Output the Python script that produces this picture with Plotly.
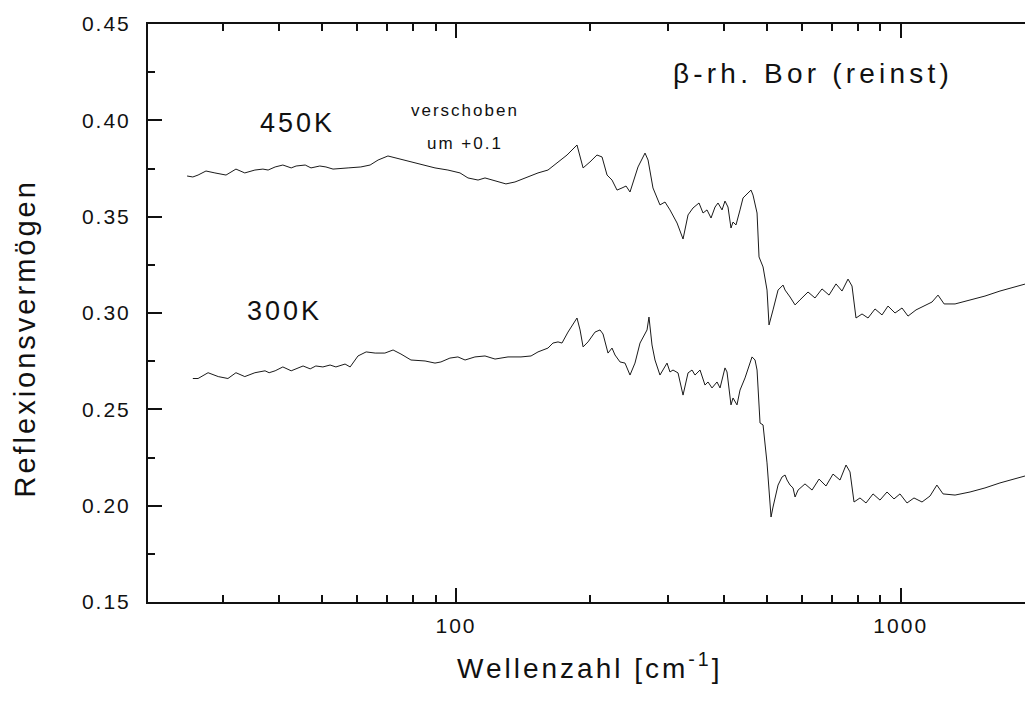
import plotly.graph_objects as go

# Reflectance spectra of beta-rhombohedral boron (high purity)
# 300 K spectrum
wn_300 = [25.6, 26.3, 27.7, 29.2, 30.7, 32.0, 33.5, 35.3, 37.2, 38.0, 39.2, 40.8, 42.6, 45.3,
          47.0, 48.4, 50.2, 52.1, 53.7, 56.3, 57.8, 60.2, 62.8, 65.8, 69.2, 72.2, 75.2, 79.2,
          85.2, 89.7, 92.5, 96.9, 101.0, 104.8, 110.3, 116.2, 122.4, 130.9, 140.0, 147.5, 152.9,
          161.0, 165.2, 169.6, 173.1, 178.6, 187.1, 190.1, 193.1, 198.1, 205.4, 210.8, 214.1,
          219.7, 224.3, 227.8, 233.8, 239.9, 246.2, 252.6, 259.3, 263.3, 268.9, 271.6, 275.9,
          280.2, 287.5, 298.2, 302.8, 307.6, 315.7, 324.0, 332.5, 339.4, 344.7, 353.8, 363.0,
          368.7, 376.4, 386.3, 392.4, 402.6, 406.8, 415.3, 419.7, 428.4, 435.2, 446.6, 453.6,
          463.1, 470.4, 475.3, 482.7, 490.3, 500.5, 511.0, 516.3, 529.9, 541.0, 549.5, 555.2,
          563.9, 572.7, 578.7, 587.7, 609.2, 631.9, 655.2, 679.2, 704.3, 730.3, 753.4, 769.1,
          785.3, 809.9, 835.6, 866.5, 898.3, 931.5, 965.9, 996.3, 1033.2, 1071.2, 1116.6,
          1164, 1206, 1245, 1325, 1432, 1547, 1672, 1903]
refl_300 = [0.266, 0.266, 0.269, 0.267, 0.266, 0.269, 0.267, 0.269, 0.270, 0.269, 0.270, 0.272,
            0.270, 0.2725, 0.271, 0.2725, 0.272, 0.273, 0.272, 0.2735, 0.272, 0.2777, 0.2798,
            0.2792, 0.2792, 0.2808, 0.2787, 0.2756, 0.2751, 0.274, 0.2746, 0.2766, 0.2772,
            0.2756, 0.2772, 0.2777, 0.2761, 0.2772, 0.2772, 0.2777, 0.2798, 0.2818, 0.2844,
            0.2850, 0.2844, 0.2901, 0.2974, 0.2912, 0.2824, 0.2850, 0.2901, 0.2912, 0.2891,
            0.2792, 0.2818, 0.2782, 0.2746, 0.2740, 0.2678, 0.2740, 0.2844, 0.2875, 0.2912,
            0.2979, 0.2834, 0.2756, 0.2678, 0.2740, 0.2694, 0.2704, 0.2689, 0.2574, 0.2689,
            0.2704, 0.2678, 0.2704, 0.2626, 0.2642, 0.2611, 0.2642, 0.2611, 0.2715, 0.2694,
            0.2523, 0.2559, 0.2523, 0.2600, 0.2663, 0.2715, 0.2772, 0.2756, 0.2704, 0.2429,
            0.2419, 0.2222, 0.1941, 0.1993, 0.2107, 0.2149, 0.2159, 0.2133, 0.2107, 0.2092,
            0.2045, 0.2081, 0.2113, 0.2081, 0.2138, 0.2102, 0.2164, 0.2133, 0.2211, 0.2175,
            0.2019, 0.2040, 0.2014, 0.2061, 0.2029, 0.2071, 0.2035, 0.2061, 0.2014, 0.2040,
            0.2019, 0.2050, 0.2107, 0.2061, 0.2055, 0.2071, 0.2092, 0.2118, 0.2154]

# 450 K spectrum (plotted shifted by +0.1)
wn_450 = [24.85, 25.6, 26.3, 27.4, 28.7, 30.4, 32.0, 33.5, 35.3, 36.8, 37.8, 39.2, 40.8, 42.6,
          43.7, 45.8, 47.2, 49.4, 51.0, 52.9, 57.2, 61.1, 64.1, 66.8, 70.3, 73.3, 76.8, 80.9,
          85.2, 89.7, 95.9, 102.1, 106.4, 112.1, 116.2, 122.4, 129.5, 135.7, 145.2, 152.9,
          161.0, 168.7, 177.7, 187.1, 193.1, 200.1, 207.5, 213.0, 218.6, 224.3, 230.2, 236.2,
          241.2, 246.2, 250.0, 256.6, 266.1, 270.3, 277.3, 283.1, 287.5, 295.1, 302.8, 314.1,
          324.0, 332.5, 341.1, 351.9, 359.3, 366.8, 374.5, 382.4, 388.3, 396.5, 402.6, 408.9,
          415.3, 419.7, 426.2, 435.2, 442.0, 453.6, 460.7, 465.5, 475.3, 480.2, 490.3, 500.5,
          505.7, 516.3, 529.9, 543.8, 549.5, 563.9, 578.7, 593.7, 618.8, 641.6, 665.3, 690.0,
          715.3, 737.9, 761.2, 777.1, 793.4, 818.5, 844.3, 875.5, 907.8, 936.3, 971.0, 1006.7,
          1038.5, 1082.4, 1128.2, 1176, 1213, 1252, 1325, 1432, 1547, 1672, 1903]
refl_450 = [0.3711, 0.3706, 0.3716, 0.3737, 0.3727, 0.3716, 0.3747, 0.3727, 0.3742, 0.3747,
            0.3742, 0.3758, 0.3768, 0.3753, 0.3763, 0.3768, 0.3753, 0.3763, 0.3758, 0.3747,
            0.3753, 0.3758, 0.3768, 0.3794, 0.3815, 0.3805, 0.3794, 0.3779, 0.3768, 0.3753,
            0.3742, 0.3727, 0.3701, 0.3690, 0.3701, 0.3685, 0.3670, 0.3680, 0.3706, 0.3727,
            0.3742, 0.3779, 0.3820, 0.3872, 0.3753, 0.3784, 0.3820, 0.3810, 0.3716, 0.3690,
            0.3638, 0.3649, 0.3659, 0.3628, 0.3675, 0.3758, 0.3830, 0.3794, 0.3649, 0.3597,
            0.3561, 0.3576, 0.3535, 0.3467, 0.3384, 0.3509, 0.3545, 0.3571, 0.3519, 0.3535,
            0.3493, 0.3550, 0.3571, 0.3535, 0.3581, 0.3550, 0.3441, 0.3472, 0.3457, 0.3535,
            0.3597, 0.3623, 0.3638, 0.3612, 0.3519, 0.3291, 0.3239, 0.3119, 0.2938, 0.3016,
            0.3119, 0.3145, 0.3119, 0.3083, 0.3042, 0.3068, 0.3109, 0.3078, 0.3125, 0.3093,
            0.3151, 0.3114, 0.3176, 0.3140, 0.2974, 0.2995, 0.2974, 0.3021, 0.2990, 0.3036,
            0.3000, 0.3026, 0.2984, 0.3016, 0.3036, 0.3057, 0.3093, 0.3047, 0.3047, 0.3068,
            0.3088, 0.3114, 0.3150]

y_ticks = [0.15, 0.20, 0.25, 0.30, 0.35, 0.40, 0.45]
x_ticks = [100, 1000]
x_minor = [30, 40, 50, 60, 70, 80, 90, 200, 300, 400, 500, 600, 700, 800, 900]

FONT = "Liberation Sans, Arial, sans-serif"
INK = "#111111"


def spaced(text, gap):
    return f'<span style="letter-spacing:{gap}px">{text}</span>'


fig = go.Figure()
for wn, refl in ((wn_300, refl_300), (wn_450, refl_450)):
    fig.add_trace(go.Scatter(x=wn, y=refl, mode="lines",
                             line=dict(color="#1a1a1a", width=1),
                             showlegend=False, hoverinfo="skip"))

axis_common = dict(showline=True, linecolor=INK, linewidth=2, ticks="inside",
                   tickcolor=INK, tickwidth=2, ticklen=14, showgrid=False,
                   zeroline=False, tickfont=dict(family=FONT, size=21, color=INK))

fig.update_layout(
    width=1025, height=711,
    margin=dict(l=148, r=0, t=24, b=109),
    paper_bgcolor="white", plot_bgcolor="white",
    xaxis=dict(type="log", range=[1.3074, 3.2795], mirror="ticks",
               tickvals=x_ticks, ticktext=[spaced(str(v), 2) for v in x_ticks],
               ticklabelstandoff=4,
               minor=dict(tickvals=x_minor, ticks="inside", ticklen=7,
                          tickwidth=2, tickcolor=INK),
               **axis_common),
    yaxis=dict(range=[0.15, 0.45], tickvals=y_ticks,
               ticktext=[spaced(f"{v:.2f}", 2) for v in y_ticks],
               ticklabelstandoff=11,
               minor=dict(dtick=0.025, ticks="inside", ticklen=7,
                          tickwidth=2, tickcolor=INK),
               **axis_common),
    yaxis2=dict(overlaying="y", side="right", range=[0.15, 0.45],
                tickvals=y_ticks, showticklabels=False, showline=False,
                ticks="inside", ticklen=5, tickwidth=2, tickcolor=INK,
                showgrid=False, zeroline=False),
)


def label(x, y, text, size, angle=0):
    fig.add_annotation(x=x, y=y, xref="paper", yref="paper", text=text,
                       textangle=angle, showarrow=False,
                       xanchor="center", yanchor="middle",
                       font=dict(family=FONT, size=size, color=INK))


label(0.171, 0.8287, spaced("450K", 3), 27)
label(0.1557, 0.5026, spaced("300K", 3), 27)
label(0.3616, 0.8495, spaced("verschoben", 2), 17)
label(0.3616, 0.7941, spaced("um +0.1", 2), 17)
label(0.7577, 0.9135, spaced("β-rh. Bor (reinst)", 4.2), 28)
label(-0.1402, 0.4559, spaced("Reflexionsvermögen", 3), 29, angle=-90)
label(0.504, -0.111, spaced("Wellenzahl [cm<sup>-1</sup>]", 3), 28)

fig.write_html("out.html")
